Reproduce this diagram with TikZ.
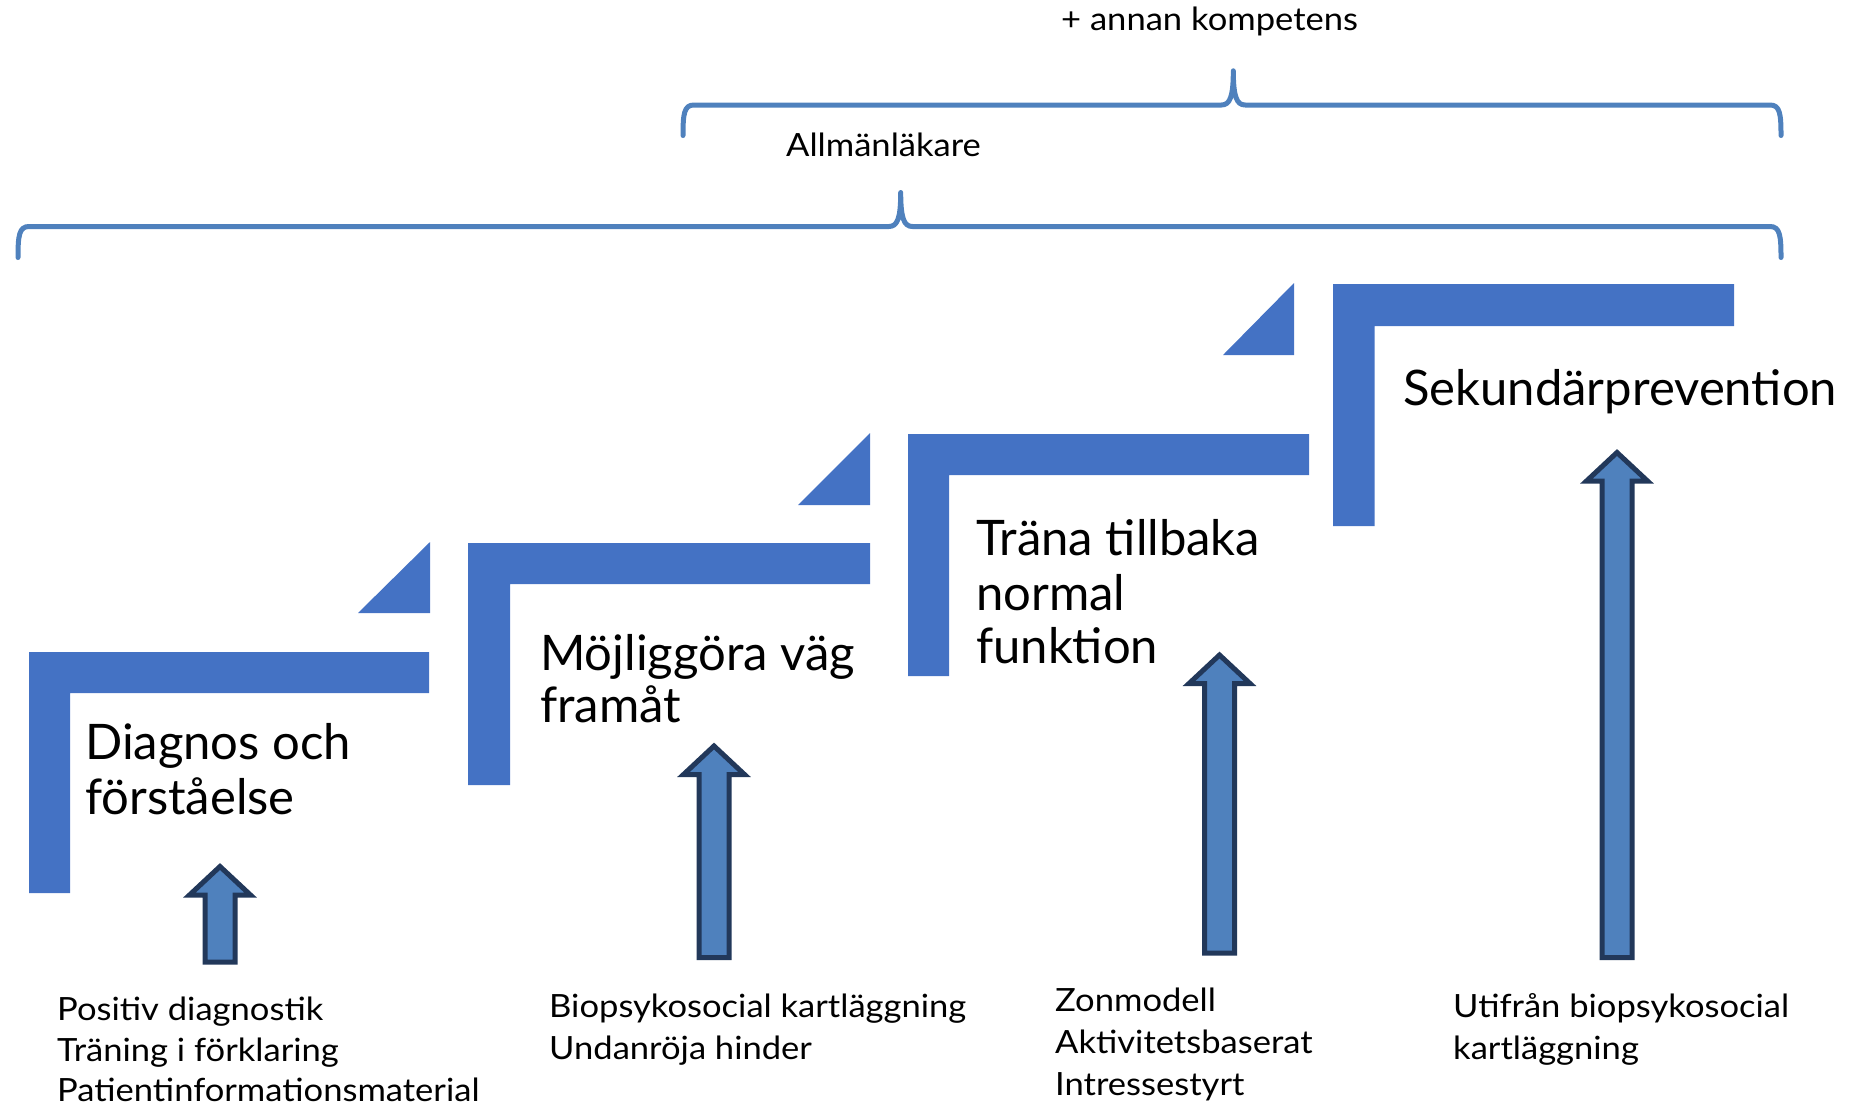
\documentclass[tikz,border=0pt]{standalone}
\usepackage{fontspec}
\setmainfont{Lato}
\newfontfamily\widelato[FakeStretch=1.08]{Lato}

\definecolor{stepblue}{HTML}{4472C4}
\definecolor{braceblue}{HTML}{4F81BD}
\definecolor{arrowfill}{HTML}{4F81BD}
\definecolor{arrowline}{HTML}{22385A}

% block arrow pointing up: centre x, tip y, bottom y
\newcommand\UpArrow[3]{%
  \draw[uparrow] (#1,#2) -- ({#1+30.5},{#2+28.5}) -- ({#1+15},{#2+28.5})
    -- ({#1+15},#3) -- ({#1-15},#3) -- ({#1-15},{#2+28.5})
    -- ({#1-30.5},{#2+28.5}) -- cycle;}

\tikzset{
  stepshape/.style={fill=stepblue, draw=none},
  uparrow/.style={fill=arrowfill, draw=arrowline, line width=5pt, line join=miter},
  bracepath/.style={draw=braceblue, line width=5pt, line cap=round, line join=round},
  bigtxt/.style={font=\fontsize{49}{55}\selectfont, anchor=base west, inner sep=0pt},
  smalltxt/.style={font=\widelato\fontsize{32}{38}\selectfont, anchor=base west, inner sep=0pt},
}

\begin{document}
\begin{tikzpicture}[x=1pt, y=-1pt]
\useasboundingbox (0,0) rectangle (1854,1108);

% staircase steps (L shapes)
\fill[stepshape] (29,652) -- (429,652) -- (429,693) -- (70,693) -- (70,893) -- (29,893) -- cycle;
\fill[stepshape] (468,543) -- (870,543) -- (870,584) -- (510,584) -- (510,785) -- (468,785) -- cycle;
\fill[stepshape] (908,434) -- (1309,434) -- (1309,475) -- (949,475) -- (949,676) -- (908,676) -- cycle;
\fill[stepshape] (1333,284) -- (1734,284) -- (1734,326) -- (1374.5,326) -- (1374.5,526) -- (1333,526) -- cycle;

% corner wedges
\fill[stepshape] (358,613) -- (430,613) -- (430,542) -- cycle;
\fill[stepshape] (798,505) -- (870,505) -- (870,433) -- cycle;
\fill[stepshape] (1223,355) -- (1294,355) -- (1294,283) -- cycle;

% step titles
\node[bigtxt] (s1a) at (85,759) {Diagnos och};
\node[bigtxt] (s1b) at (85,814) {förståelse};
\node[bigtxt] (s2a) at (540,670) {Möjliggöra väg};
\node[bigtxt] (s2b) at (540,722) {framåt};
\node[bigtxt] (s3a) at (976,555) {Träna tillbaka};
\node[bigtxt] (s3b) at (976,610) {normal};
\node[bigtxt] (s3c) at (976,663) {funktion};
\node[bigtxt] (s4a) at (1403,405) {Sekundärprevention};

% up arrows
\UpArrow{220}{866.5}{962}
\UpArrow{714}{746}{957.5}
\UpArrow{1219.5}{655}{953}
\UpArrow{1617}{452.5}{957.5}

% braces
\draw[bracepath] (18,257.5) .. controls (18,236) and (19,226.5) .. (29,226.5)
  -- (889,226.5) .. controls (897.5,226.5) and (900.7,218) .. (900.7,192.5)
  .. controls (900.7,218) and (903.9,226.5) .. (912.4,226.5)
  -- (1770,226.5) .. controls (1780,226.5) and (1781,236) .. (1781,257.5);
\draw[bracepath] (683,135.5) .. controls (683,114) and (684,105) .. (694,105)
  -- (1221.5,105) .. controls (1230,105) and (1233.3,96.5) .. (1233.3,70.8)
  .. controls (1233.3,96.5) and (1236.6,105) .. (1245.1,105)
  -- (1770,105) .. controls (1780,105) and (1781,114) .. (1781,135.5);

\node[smalltxt] (lblA) at (786,156) {Allmänläkare};
\node[smalltxt] (lblB) at (1061,31) {+ annan kompetens};

% bottom descriptions
\node[smalltxt] (c1a) at (57,1020) {Positiv diagnostik};
\node[smalltxt] (c1b) at (57,1061.5) {Träning i förklaring};
\node[smalltxt] (c1c) at (57,1101.5) {Patientinformationsmaterial};
\node[smalltxt] (c2a) at (549,1017.5) {Biopsykosocial kartläggning};
\node[smalltxt] (c2b) at (549,1059) {Undanröja hinder};
\node[smalltxt] (c3a) at (1055,1011.5) {Zonmodell};
\node[smalltxt] (c3b) at (1055,1053.5) {Aktivitetsbaserat};
\node[smalltxt] (c3c) at (1055,1095) {Intressestyrt};
\node[smalltxt] (c4a) at (1453,1017.5) {Utifrån biopsykosocial};
\node[smalltxt] (c4b) at (1453,1059) {kartläggning};
\end{tikzpicture}
\end{document}
